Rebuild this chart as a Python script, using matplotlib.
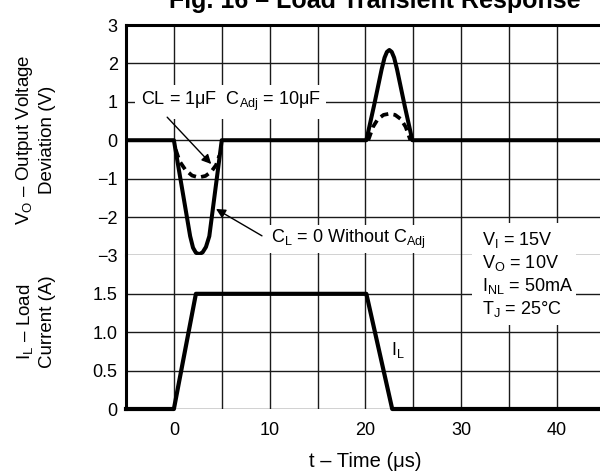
import matplotlib
matplotlib.use("Agg")
import matplotlib.pyplot as plt
from matplotlib.patches import Rectangle

plt.rcParams['font.family'] = ['Liberation Sans', 'DejaVu Sans']
plt.rcParams['mathtext.fontset'] = 'custom'
plt.rcParams['mathtext.rm'] = 'Liberation Sans'
plt.rcParams['mathtext.it'] = 'Liberation Sans'

# voltage deviation, solid = CL = 0 without CAdj
t_solid = [-5, 0, 0.85, 1.7, 2.0, 2.3, 2.65, 3.0, 3.35, 3.7, 4.35, 5.0,
           20.1, 20.9, 21.7, 22.0, 22.25, 22.5, 22.75, 23.0, 23.3, 24.1, 24.9, 44.5]
v_solid = [0, 0, -1.25, -2.5, -2.8, -2.93, -2.97, -2.92, -2.78, -2.5, -1.25, 0,
           0, 0.9, 1.85, 2.15, 2.3, 2.35, 2.3, 2.15, 1.85, 0.9, 0, 0]

# voltage deviation, dashed = CL = 1uF, CAdj = 10uF (two pieces)
t_dash_dip = [0.2, 0.6, 1.2, 1.9, 2.6, 3.3, 3.9, 4.4, 4.75]
v_dash_dip = [-0.25, -0.55, -0.77, -0.92, -0.97, -0.93, -0.82, -0.65, -0.4]
t_dash_bump = [20.3, 20.8, 21.3, 21.9, 22.5, 23.1, 23.7, 24.2, 24.7]
v_dash_bump = [0, 0.35, 0.55, 0.66, 0.69, 0.66, 0.55, 0.35, 0]

# load current
t_load = [-5, 0, 2.3, 20.1, 22.8, 44.5]
i_load = [0, 0, 1.5, 1.5, 0, 0]

v_ticks = [3, 2, 1, 0, -1, -2, -3]
i_ticks = [0, 0.5, 1.0, 1.5]
i_ticklabels = ['0', '0.5', '1.0', '1.5']
t_grid = [-5, 0, 5, 10, 15, 20, 25, 30, 35, 40]
t_labels = ['', '0', '', '10', '', '20', '', '30', '', '40']

cond_lines = ['V$_\\mathregular{I}$ = 15V', 'V$_\\mathregular{O}$ = 10V',
              'I$_\\mathregular{NL}$ = 50mA', 'T$_\\mathregular{J}$ = 25°C']

fig = plt.figure(figsize=(6, 4.73), dpi=100)
ax_v = fig.add_axes([0.21, 0.4600, 0.79, 0.4871])
ax_i = fig.add_axes([0.21, 0.1353, 0.79, 0.3247])

fs = 13
for ax in (ax_v, ax_i):
    ax.set_xlim(-5, 44.5)
    ax.set_xticks(t_grid)
    ax.grid(True, color='#1a1a1a', lw=1.0)
    ax.tick_params(length=0, labelsize=fs, pad=6)
    ax.spines['right'].set_visible(False)
    ax.spines['bottom'].set_visible(False)
    ax.spines['left'].set_linewidth(2.2)
    ax.set_axisbelow(True)

ax_v.set_ylim(-3, 3)
ax_v.set_yticks(v_ticks)
ax_v.set_xticklabels([])
ax_v.spines['top'].set_linewidth(2.2)

ax_i.set_ylim(0, 2.0)
ax_i.set_yticks(i_ticks)
ax_i.set_yticklabels(i_ticklabels)
ax_i.set_xticklabels(t_labels)
ax_i.spines['top'].set_visible(False)
ax_i.tick_params(axis='x', pad=9)

ax_v.plot(t_solid, v_solid, color='black', lw=2.9, solid_joinstyle='round', zorder=3)
ax_v.plot(t_dash_dip, v_dash_dip, color='black', lw=2.7, ls=(0, (2.2, 1.4)), zorder=3)
ax_v.plot(t_dash_bump, v_dash_bump, color='black', lw=2.7, ls=(0, (2.2, 1.4)), zorder=3)
ax_i.plot(t_load, i_load, color='black', lw=3.0, clip_on=False, zorder=3)

arrow = dict(arrowstyle='-|>', color='black', lw=1.0, shrinkA=0, shrinkB=0, mutation_scale=14)
ax_v.text(-3.45, 1.0, 'CL = 1μF  C$_\\mathregular{Adj}$ = 10μF', fontsize=fs, va='center', ha='left',
          bbox=dict(facecolor='white', edgecolor='none', pad=4), zorder=4)
ax_v.annotate('', xy=(3.9, -0.62), xytext=(-0.7, 0.6), arrowprops=arrow, zorder=4)
ax_v.text(10.15, -2.57, 'C$_\\mathregular{L}$ = 0 Without C$_\\mathregular{Adj}$', fontsize=fs,
          va='center', ha='left', bbox=dict(facecolor='white', edgecolor='none', pad=2), zorder=4)
ax_v.annotate('', xy=(4.4, -1.79), xytext=(9.2, -2.49), arrowprops=arrow, zorder=4)
ax_i.text(22.7, 0.77, 'I$_\\mathregular{L}$', fontsize=fs, va='center', ha='left')

# test conditions block, white box over both panels
fig.patches.append(Rectangle((472 / 600, 1 - 325 / 473), 104 / 600, 102 / 473,
                             transform=fig.transFigure, facecolor='white', edgecolor='none', zorder=5))
for k, s in enumerate(cond_lines):
    fig.text(482 / 600, 1 - (240 + 23 * k) / 473, s, fontsize=fs, ha='left', va='center', zorder=6)

fig.text(25 / 600, 1 - 140 / 473, 'V$_\\mathregular{O}$ – Output Voltage', rotation=90,
         ha='center', va='center', fontsize=13.5)
fig.text(48 / 600, 1 - 140 / 473, 'Deviation (V)', rotation=90,
         ha='center', va='center', fontsize=13.5)
fig.text(25 / 600, 1 - 322 / 473, 'I$_\\mathregular{L}$ – Load', rotation=90,
         ha='center', va='center', fontsize=13.5)
fig.text(48 / 600, 1 - 322 / 473, 'Current (A)', rotation=90,
         ha='center', va='center', fontsize=13.5)
fig.text(365 / 600, 6 / 473, 't – Time (μs)', ha='center', va='baseline', fontsize=14.5)
fig.text(0.625, 0.983, 'Fig. 16 – Load Transient Response', ha='center', va='baseline',
         fontsize=18, fontweight='bold')

fig.savefig('out.png', dpi=100)
